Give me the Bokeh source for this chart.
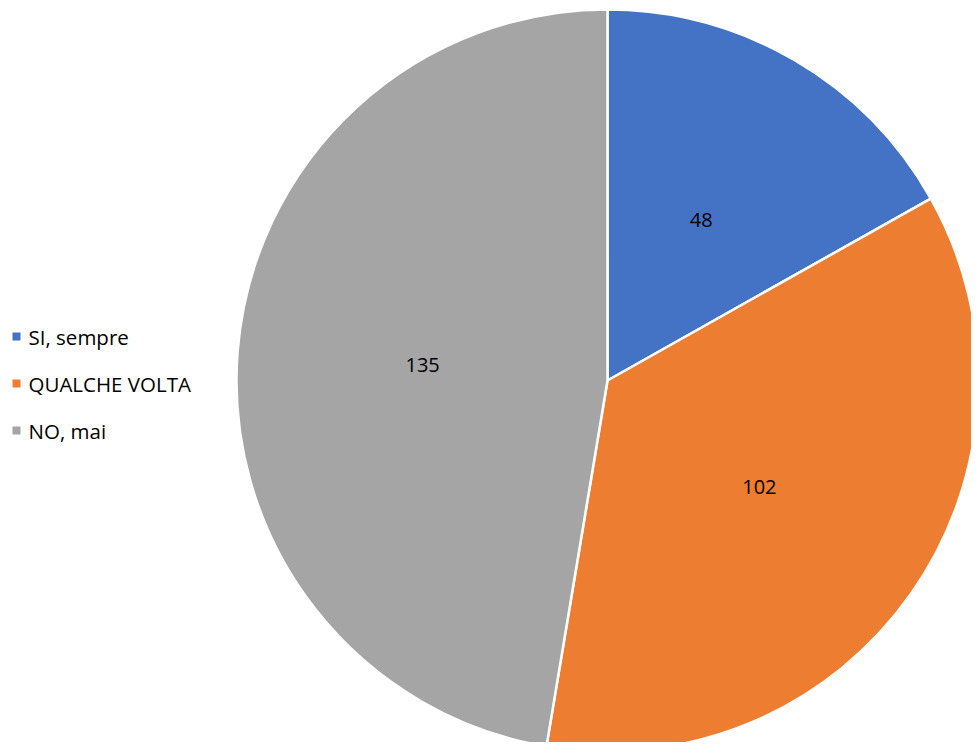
import numpy as np
from bokeh.plotting import figure
from bokeh.models import ColumnDataSource, Range1d
from bokeh.core.properties import value
from bokeh.embed import file_html
from bokeh.resources import INLINE

categories = ["SI, sempre", "QUALCHE VOLTA", "NO, mai"]
counts = [48, 102, 135]
colors = ["#4472C4", "#ED7D31", "#A5A5A5"]

W, H = 971, 742
cx, cy, R = 607, 362, 371

vals = np.array(counts, dtype=float)
frac = vals / vals.sum()
cum_end = np.cumsum(frac) * 2 * np.pi
cum_start = cum_end - frac * 2 * np.pi
start = np.pi / 2 - cum_end
end = np.pi / 2 - cum_start
mid = (start + end) / 2

src = ColumnDataSource(dict(
    start=start, end=end, color=colors, cat=categories,
    lx=cx + 0.5 * R * np.cos(mid), ly=cy + 0.5 * R * np.sin(mid),
    label=[str(c) for c in counts],
))

p = figure(width=W, height=H, x_range=Range1d(0, W), y_range=Range1d(0, H),
           output_backend="svg", toolbar_location=None, min_border=0)
p.axis.visible = False
p.grid.visible = False
p.outline_line_color = None
p.background_fill_color = "white"

p.wedge(x=cx, y=cy, radius=R, start_angle="start", end_angle="end",
        fill_color="color", line_color="white", line_width=2.5, source=src)
p.text(x="lx", y="ly", text="label", source=src, text_align="center",
       text_baseline="middle", text_font=value("Open Sans"),
       text_font_size="20px", text_color="#000000")

leg = ColumnDataSource(dict(
    x=[16] * len(categories), tx=[28] * len(categories),
    y=[406 - 47 * i for i in range(len(categories))],
    cat=categories, color=colors,
))
p.scatter(x="x", y="y", marker="square", size=8, fill_color="color",
          line_color=None, source=leg)
p.text(x="tx", y="y", text="cat", source=leg, text_align="left",
       text_baseline="middle", text_font=value("Open Sans"),
       text_font_size="20.5px", text_color="#000000")

open("out.html", "w").write(file_html(p, INLINE))
